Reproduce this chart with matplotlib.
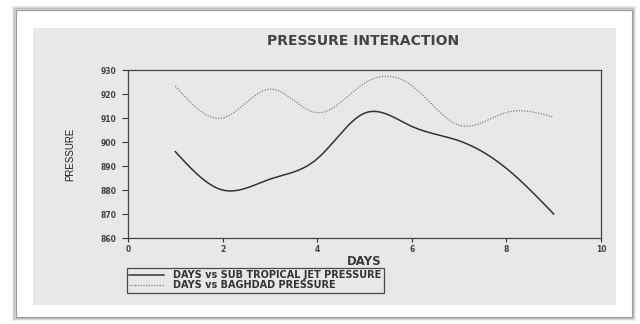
import numpy as np
import matplotlib.pyplot as plt
from matplotlib.patches import Rectangle

days = [1, 2, 3, 4, 5, 6, 7, 8, 9]
jet_pressure = [896, 880, 884.5, 893, 912, 906.5, 900.5, 889, 870]
baghdad_pressure = [923.3, 910, 922, 912.2, 924.5, 923.5, 907, 912.3, 910.3]

x_ticks = [0, 2, 4, 6, 8, 10]
y_ticks = [860, 870, 880, 890, 900, 910, 920, 930]


def natural_spline(x, y, n=300):
    # natural cubic spline, just to draw the smoothed lines
    x = np.asarray(x, float)
    y = np.asarray(y, float)
    m = len(x)
    h = np.diff(x)
    A = np.zeros((m, m))
    b = np.zeros(m)
    A[0, 0] = A[-1, -1] = 1
    for i in range(1, m - 1):
        A[i, i - 1] = h[i - 1]
        A[i, i] = 2 * (h[i - 1] + h[i])
        A[i, i + 1] = h[i]
        b[i] = 3 * ((y[i + 1] - y[i]) / h[i] - (y[i] - y[i - 1]) / h[i - 1])
    c = np.linalg.solve(A, b)
    xs = np.linspace(x[0], x[-1], n)
    idx = np.clip(np.searchsorted(x, xs) - 1, 0, m - 2)
    dx = xs - x[idx]
    bb = (y[idx + 1] - y[idx]) / h[idx] - h[idx] * (2 * c[idx] + c[idx + 1]) / 3
    dd = (c[idx + 1] - c[idx]) / (3 * h[idx])
    ys = y[idx] + bb * dx + c[idx] * dx ** 2 + dd * dx ** 3
    return xs, ys


plt.rcParams['font.family'] = ['DejaVu Sans']

fig = plt.figure(figsize=(6.4, 3.24), dpi=100, facecolor='white')
W, H = 640, 324

# card shadow / border
for k, a in enumerate([0.10, 0.18, 0.30]):
    fig.patches.append(Rectangle(((13 + k) / W, 1 - (320 - k) / H), (622 - 2 * k) / W, (313 - 2 * k) / H,
                                 transform=fig.transFigure, facecolor='none',
                                 edgecolor='#505050', alpha=a, lw=1.2, zorder=-10))
fig.patches.append(Rectangle((16 / W, 1 - 317 / H), 616 / W, 307 / H, transform=fig.transFigure,
                             facecolor='white', edgecolor='#9a9a9a', lw=0.8, zorder=-9))
# gray panel
fig.patches.append(Rectangle((33 / W, 1 - 305 / H), 583 / W, 277 / H, transform=fig.transFigure,
                             facecolor='#e8e8e8', edgecolor='none', zorder=-8))

ax = fig.add_axes([128 / W, 1 - 238 / H, 473 / W, 168 / H])
ax.set_facecolor('#e8e8e8')

xs, ys = natural_spline(days, jet_pressure)
ax.plot(xs, ys, color='#333333', lw=1.1, label='DAYS vs SUB TROPICAL JET PRESSURE')
xs, ys = natural_spline(days, baghdad_pressure)
ax.plot(xs, ys, color='#808080', lw=0.9, ls=(0, (1, 1.2)), label='DAYS vs BAGHDAD PRESSURE')

ax.set_xlim(0, 10)
ax.set_ylim(860, 930)
ax.set_xticks(x_ticks)
ax.set_yticks(y_ticks)
ax.tick_params(labelsize=5.5, width=0.8, colors='#333333')
ax.tick_params(axis='y', length=4.5, pad=4)
ax.tick_params(axis='x', length=3, pad=2)
for lbl in ax.get_xticklabels() + ax.get_yticklabels():
    lbl.set_fontweight('bold')
    lbl.set_color('#444444')
for s in ax.spines.values():
    s.set_color('#444444')
    s.set_linewidth(0.9)

ax.set_xlabel('DAYS', fontsize=8.5, fontweight='bold', color='#3a3a3a', labelpad=1)
ax.set_ylabel('PRESSURE', fontsize=7, family='Liberation Sans', color='#222222')
ax.yaxis.set_label_coords(-0.112, 0.5)
fig.text(363 / W, 1 - 41 / H, 'PRESSURE INTERACTION', ha='center', va='center',
         fontsize=10, fontweight='bold', color='#444444')

leg = ax.legend(loc='upper left', bbox_to_anchor=(127 / W, 1 - 268 / H), bbox_transform=fig.transFigure,
                prop={'size': 7, 'weight': 'bold'}, frameon=True, fancybox=False,
                handlelength=3.6, handletextpad=0.9, borderpad=0.25, labelspacing=0.0,
                borderaxespad=0)
leg.get_frame().set_edgecolor('#222222')
leg.get_frame().set_facecolor('#e8e8e8')
leg.get_frame().set_linewidth(0.9)
for t in leg.get_texts():
    t.set_color('#333333')

fig.savefig('out.png', dpi=100)
